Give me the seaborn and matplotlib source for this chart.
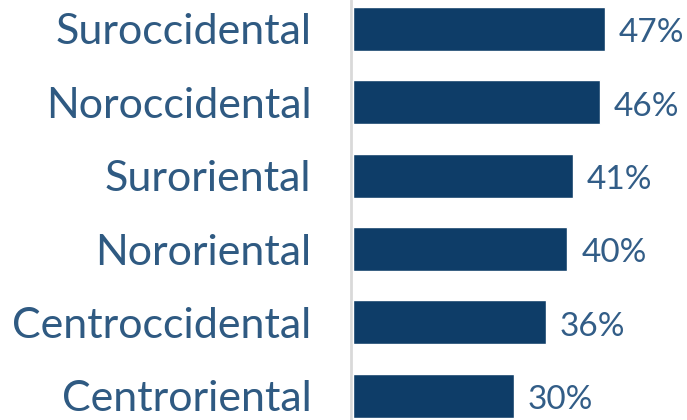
import matplotlib
matplotlib.use('Agg')
import matplotlib.pyplot as plt
import seaborn as sns
import pandas as pd

# data
regions = ['Suroccidental', 'Noroccidental', 'Suroriental',
           'Nororiental', 'Centroccidental', 'Centroriental']
values = [47, 46, 41, 40, 36, 30]

sns.set_style('white')
plt.rcParams['font.family'] = ['Lato', 'DejaVu Sans']

df = pd.DataFrame({'region': regions, 'value': values})

fig = plt.figure(figsize=(6.87, 4.2), dpi=100)
ax = fig.add_axes([349 / 687, 0, 338 / 687, 1])

sns.barplot(data=df, x='value', y='region', orient='h', color='#0E3D68',
            saturation=1, width=0.6, ax=ax)

ax.set_xlim(-0.75, 62.3)
ax.set_ylim(5.33, -0.395)
ax.axvline(-0.45, color='#D9D9D9', lw=2.0, clip_on=False, zorder=0)

for s in ax.spines.values():
    s.set_visible(False)
ax.set_xticks([])
ax.set_xlabel('')
ax.set_ylabel('')
ax.tick_params(axis='y', length=0, pad=27, labelsize=31, labelcolor='#2F5A82')

# value labels, nudged a bit down like the original
for p, v in zip(ax.patches, values):
    ax.annotate('{}%'.format(v), (p.get_width(), p.get_y() + p.get_height() / 2),
                xytext=(10, -3), textcoords='offset points',
                ha='left', va='center', fontsize=24, color='#325D87')

fig.savefig('out.png', dpi=100)
